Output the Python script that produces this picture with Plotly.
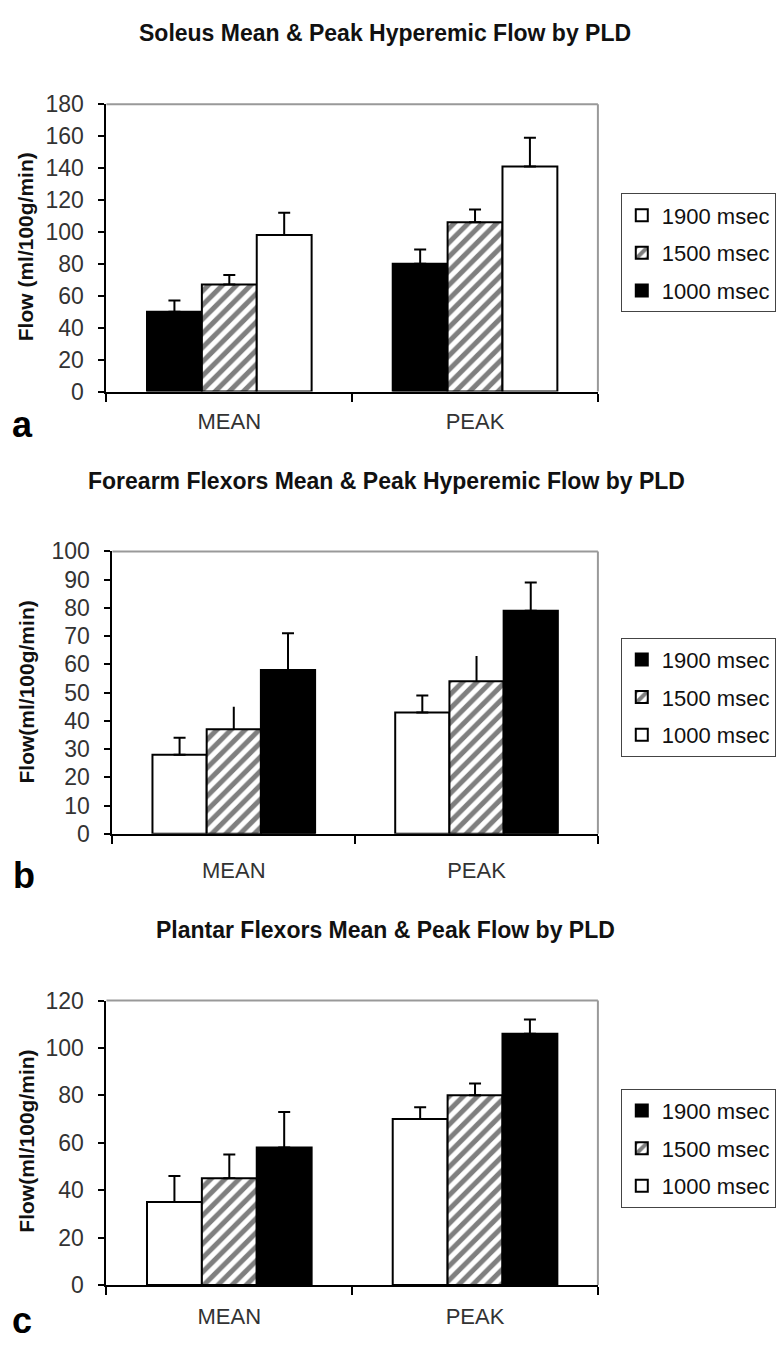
import plotly.graph_objects as go

# ---------------- data ----------------
categories = ["MEAN", "PEAK"]
pld_labels = ["1000 msec", "1500 msec", "1900 msec"]

titles = [
    "Soleus Mean & Peak Hyperemic Flow by PLD",
    "Forearm Flexors Mean & Peak Hyperemic Flow by PLD",
    "Plantar Flexors Mean & Peak Flow by PLD",
]
y_titles = ["Flow (ml/100g/min)", "Flow(ml/100g/min)", "Flow(ml/100g/min)"]
panel_letters = ["a", "b", "c"]

# panel a (Soleus)
a_1000 = [50, 80]
a_1500 = [67, 106]
a_1900 = [98, 141]
a_1000_err = [7, 9]
a_1500_err = [6, 8]
a_1900_err = [14, 18]

# panel b (Forearm flexors)
b_1000 = [28, 43]
b_1500 = [37, 54]
b_1900 = [58, 79]
b_1000_err = [6, 6]
b_1500_err = [8, 9]
b_1900_err = [13, 10]

# panel c (Plantar flexors)
c_1000 = [35, 70]
c_1500 = [45, 80]
c_1900 = [58, 106]
c_1000_err = [11, 5]
c_1500_err = [10, 5]
c_1900_err = [15, 6]

y_ranges = [[0, 180], [0, 100], [0, 120]]
y_dticks = [20, 10, 20]

# ---------------- layout helpers ----------------
W, H = 776, 1345
SANS = "Liberation Sans, Arial, sans-serif"


def px_x(x):
    return x / W


def px_y(y):
    return 1 - y / H


# plot areas in pixels (left, right, top, bottom)
areas = [(107, 601, 93, 386), (113, 601, 549, 837), (107, 601, 1007, 1297)]
legend_tops = [184, 637, 1097]
title_pos = [(387, 20), (389, 477), (387, 935)]
letter_pos = [(23, 420), (24, 880), (22, 1333)]
ytitle_pos = [(26, 238), (27, 692), (27, 1150)]
x_standoffs = [9, 16, 11]

WHITE = dict(color="white", line=dict(color="black", width=2))
BLACK = dict(color="black", line=dict(color="black", width=2))
HATCH = dict(color="white", line=dict(color="black", width=2),
             pattern=dict(shape="/", fgcolor="black", bgcolor="white",
                          size=10, solidity=0.5))

panels = [
    [(a_1000, a_1000_err, BLACK, 6), (a_1500, a_1500_err, HATCH, 6), (a_1900, a_1900_err, WHITE, 6)],
    [(b_1000, b_1000_err, WHITE, 6), (b_1500, b_1500_err, HATCH, 0), (b_1900, b_1900_err, BLACK, 6)],
    [(c_1000, c_1000_err, WHITE, 6), (c_1500, c_1500_err, HATCH, 6), (c_1900, c_1900_err, BLACK, 6)],
]

fig = go.Figure()
annotations = []
shapes = []
layout = {}

for i, panel in enumerate(panels):
    sfx = "" if i == 0 else str(i + 1)
    xa, ya = "x" + sfx, "y" + sfx
    leg = "legend" + sfx
    for j, (vals, errs, marker, capw) in enumerate(panel):
        fig.add_trace(go.Bar(
            x=categories, y=vals, name=pld_labels[j],
            marker=marker, xaxis=xa, yaxis=ya, legend=leg,
            legendgroup=f"{i}-{j}", legendrank=100 - j,
            error_y=dict(type="data", array=errs, arrayminus=[0] * len(errs),
                         symmetric=False, color="black", thickness=2, width=capw),
        ))
    l, r, t, b = areas[i]
    layout["xaxis" + sfx] = dict(
        domain=[px_x(l), px_x(r)], anchor=ya, type="category",
        showline=True, linecolor="black", linewidth=2,
        ticks="outside", tickson="boundaries", ticklen=8, tickcolor="black", tickwidth=1.5,
        tickfont=dict(family=SANS, size=22, color="#333"), ticklabelstandoff=x_standoffs[i],
        showgrid=False, zeroline=False, fixedrange=True,
    )
    layout["yaxis" + sfx] = dict(
        domain=[px_y(b), px_y(t)], anchor=xa, range=y_ranges[i], dtick=y_dticks[i],
        showline=True, linecolor="black", linewidth=2,
        ticks="outside", ticklen=6, tickcolor="black", tickwidth=1.5,
        tickfont=dict(family=SANS, size=23, color="#333"), ticklabelstandoff=10,
        showgrid=False, zeroline=False,
    )
    layout[leg] = dict(
        x=px_x(624), y=px_y(legend_tops[i]), xanchor="left", yanchor="top",
        bgcolor="white", bordercolor="#444", borderwidth=1,
        font=dict(family=SANS, size=22, color="#111"),
        traceorder="grouped", tracegroupgap=6,
        itemwidth=30,
    )
    # gray top/right frame
    shapes.append(dict(type="line", xref=xa + " domain", yref=ya + " domain",
                       x0=0, x1=1, y0=1, y1=1, line=dict(color="#999", width=2)))
    shapes.append(dict(type="line", xref=xa + " domain", yref=ya + " domain",
                       x0=1, x1=1, y0=0, y1=1, line=dict(color="#999", width=2)))
    tx, ty = title_pos[i]
    annotations.append(dict(text=f"<b>{titles[i]}</b>", xref="paper", yref="paper",
                            x=px_x(tx), y=px_y(ty), xanchor="center", yanchor="middle",
                            showarrow=False,
                            font=dict(family=SANS, size=23, color="#111")))
    lx, ly = letter_pos[i]
    annotations.append(dict(text=f"<b>{panel_letters[i]}</b>", xref="paper", yref="paper",
                            x=px_x(lx), y=px_y(ly), xanchor="center", yanchor="middle",
                            showarrow=False, font=dict(family=SANS, size=36, color="black")))
    yx, yy = ytitle_pos[i]
    annotations.append(dict(text=f"<b>{y_titles[i]}</b>", xref="paper", yref="paper",
                            x=px_x(yx), y=px_y(yy), xanchor="center", yanchor="middle",
                            textangle=-90, showarrow=False,
                            font=dict(family=SANS, size=21, color="#111")))

fig.update_layout(
    width=W, height=H, margin=dict(l=0, r=0, t=0, b=0),
    paper_bgcolor="white", plot_bgcolor="white",
    barmode="group", bargap=0.33, bargroupgap=0,
    annotations=annotations, shapes=shapes,
    **layout,
)

fig.write_html("out.html")
